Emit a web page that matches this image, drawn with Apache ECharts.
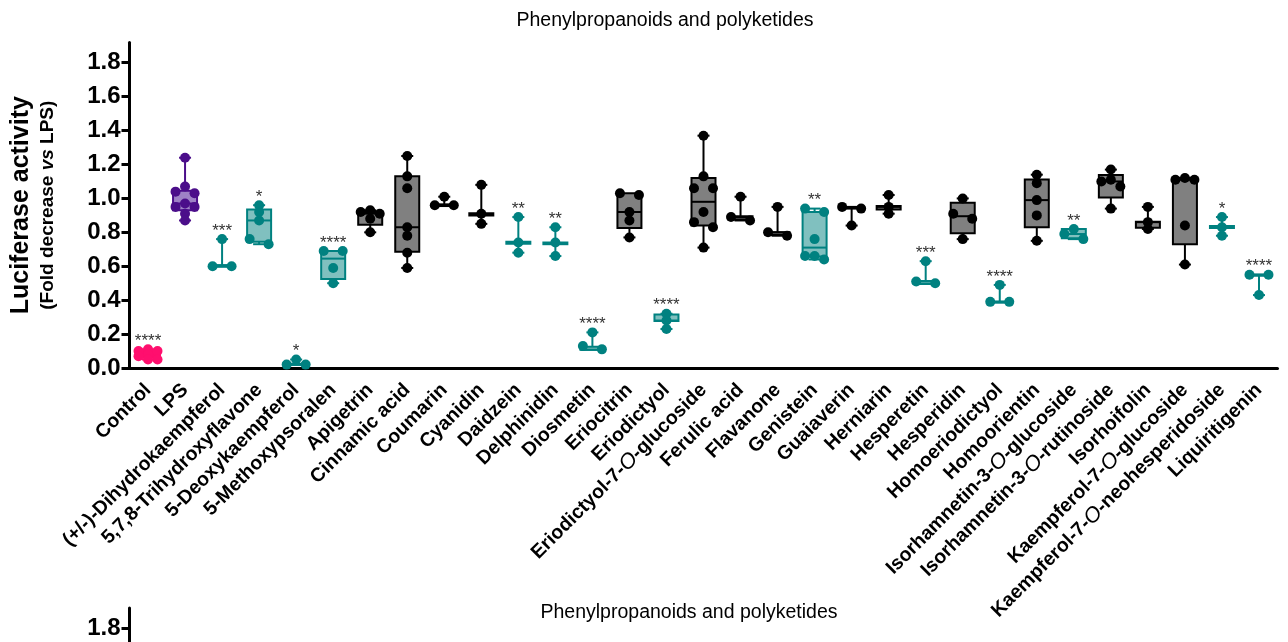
<!DOCTYPE html>
<html>
<head>
<meta charset="utf-8">
<script src="https://cdn.jsdelivr.net/npm/echarts@6/dist/echarts.min.js"></script>
<style>
  html, body { margin: 0; padding: 0; background: #fff; }
  #chart { width: 1288px; height: 642px; }
</style>
</head>
<body>
<div id="chart"></div>
<script>
// Compounds tested (x axis)
const categories = [
  'Control', 'LPS', '(+/-)-Dihydrokaempferol', '5,7,8-Trihydroxyflavone', '5-Deoxykaempferol',
  '5-Methoxypsoralen', 'Apigetrin', 'Cinnamic acid', 'Coumarin', 'Cyanidin', 'Daidzein',
  'Delphinidin', 'Diosmetin', 'Eriocitrin', 'Eriodictyol', 'Eriodictyol-7-O-glucoside',
  'Ferulic acid', 'Flavanone', 'Genistein', 'Guaiaverin', 'Herniarin', 'Hesperetin',
  'Hesperidin', 'Homoeriodictyol', 'Homoorientin', 'Isorhamnetin-3-O-glucoside',
  'Isorhamnetin-3-O-rutinoside', 'Isorhoifolin', 'Kaempferol-7-O-glucoside',
  'Kaempferol-7-O-neohesperidoside', 'Liquiritigenin'
];

// Colour group of each compound: control, LPS, significant vs LPS, not significant
const groups = [
  'control', 'lps', 'sig', 'sig', 'sig', 'sig', 'ns', 'ns', 'ns', 'ns', 'sig',
  'sig', 'sig', 'ns', 'sig', 'ns', 'ns', 'ns', 'sig', 'ns', 'ns', 'sig',
  'ns', 'sig', 'ns', 'sig', 'ns', 'ns', 'ns', 'sig', 'sig'
];

// Individual replicates (fold luciferase activity vs LPS)
const replicates = [
  [0.11, 0.10, 0.10, 0.08, 0.07, 0.05, 0.05],
  [1.24, 1.07, 1.04, 1.03, 0.97, 0.95, 0.95, 0.91, 0.87],
  [0.76, 0.60, 0.60],
  [0.96, 0.92, 0.87, 0.76, 0.73],
  [0.05, 0.02, 0.02],
  [0.69, 0.69, 0.59, 0.50],
  [0.93, 0.92, 0.91, 0.88, 0.80],
  [1.25, 1.13, 1.06, 0.83, 0.78, 0.68, 0.59],
  [1.01, 0.96, 0.96],
  [1.08, 0.91, 0.85],
  [0.89, 0.74, 0.68],
  [0.83, 0.74, 0.66],
  [0.21, 0.13, 0.11],
  [1.03, 1.02, 0.92, 0.87, 0.77],
  [0.32, 0.28, 0.23],
  [1.37, 1.13, 1.06, 1.06, 0.92, 0.86, 0.83, 0.71],
  [1.01, 0.89, 0.87],
  [0.95, 0.80, 0.78],
  [0.94, 0.92, 0.76, 0.66, 0.66, 0.64],
  [0.95, 0.94, 0.84],
  [1.02, 0.95, 0.91],
  [0.63, 0.51, 0.50],
  [1.00, 0.91, 0.88, 0.76],
  [0.49, 0.39, 0.39],
  [1.14, 1.09, 0.99, 0.90, 0.75],
  [0.82, 0.79, 0.76],
  [1.17, 1.11, 1.10, 1.07, 0.94],
  [0.95, 0.86, 0.82],
  [1.12, 1.11, 1.11, 0.84, 0.61],
  [0.89, 0.83, 0.78],
  [0.55, 0.55, 0.43]
];

// Box summaries: [min, Q1, median, Q3, max]
const boxStats = [
  [0.05, 0.06, 0.08, 0.10, 0.11],
  [0.87, 0.93, 0.97, 1.045, 1.24],
  [0.60, 0.597, 0.60, 0.607, 0.76],
  [0.73, 0.745, 0.87, 0.935, 0.96],
  [0.02, 0.018, 0.02, 0.025, 0.05],
  [0.50, 0.525, 0.645, 0.69, 0.69],
  [0.80, 0.845, 0.91, 0.92, 0.93],
  [0.59, 0.685, 0.83, 1.13, 1.25],
  [0.955, 0.955, 0.96, 0.965, 1.01],
  [0.85, 0.90, 0.905, 0.912, 1.08],
  [0.68, 0.733, 0.74, 0.745, 0.89],
  [0.66, 0.73, 0.735, 0.74, 0.83],
  [0.11, 0.107, 0.107, 0.126, 0.21],
  [0.77, 0.825, 0.92, 1.03, 1.03],
  [0.23, 0.277, 0.28, 0.316, 0.32],
  [0.71, 0.84, 0.98, 1.12, 1.37],
  [0.87, 0.875, 0.89, 0.895, 1.01],
  [0.78, 0.785, 0.80, 0.80, 0.95],
  [0.64, 0.657, 0.71, 0.92, 0.94],
  [0.84, 0.94, 0.945, 0.95, 0.95],
  [0.91, 0.935, 0.95, 0.955, 1.02],
  [0.50, 0.495, 0.51, 0.513, 0.63],
  [0.76, 0.795, 0.895, 0.975, 1.00],
  [0.39, 0.385, 0.39, 0.392, 0.49],
  [0.75, 0.83, 0.99, 1.112, 1.14],
  [0.76, 0.765, 0.79, 0.82, 0.82],
  [0.94, 1.005, 1.10, 1.138, 1.17],
  [0.82, 0.827, 0.86, 0.863, 0.95],
  [0.61, 0.73, 1.11, 1.12, 1.12],
  [0.78, 0.826, 0.833, 0.838, 0.89],
  [0.43, 0.544, 0.548, 0.552, 0.552]
];

// Significance vs LPS
const significance = [
  '****', '', '***', '*', '*', '****', '', '', '', '', '**',
  '**', '****', '', '****', '', '', '', '**', '', '', '***',
  '', '****', '', '**', '', '', '', '*', '****'
];

const yTicks = [0, 0.2, 0.4, 0.6, 0.8, 1.0, 1.2, 1.4, 1.6, 1.8];
const panelTitle = 'Phenylpropanoids and polyketides';

const palette = {
  control: { line: '#FF0F6E', fill: '#FF0F6E', dot: '#FF0F6E' },
  lps:     { line: '#4B0E8A', fill: '#9E82C6', dot: '#4B0E8A' },
  sig:     { line: '#008180', fill: '#80C0BF', dot: '#008180' },
  ns:      { line: '#000000', fill: '#808080', dot: '#000000' }
};

const FONT = '"Liberation Sans", Arial, Helvetica, sans-serif';

// Spread replicates that sit at about the same height sideways, max three per row
function swarm(ys, step) {
  const order = ys.map((y, i) => i).sort((a, b) => ys[a] - ys[b]);
  const offsets = new Array(ys.length).fill(0);
  const rows = [];
  let row = [];
  order.forEach(i => {
    if (row.length && (ys[i] - ys[row[row.length - 1]] > step * 0.58 || row.length === 3)) {
      rows.push(row); row = [];
    }
    row.push(i);
  });
  if (row.length) rows.push(row);
  rows.forEach(r => {
    const k = r.length;
    const offs = k === 1 ? [0] : k === 2 ? [-step, step] : [0, -step, step];
    r.forEach((i, n) => { offsets[i] = offs[n]; });
  });
  return offsets;
}

function renderGroup(params, api) {
  const i = api.value(0);
  const col = palette[groups[i]];
  const [lo, q1, med, q3, hi] = boxStats[i];
  const cx = api.coord([i, 0])[0];
  const Y = v => api.coord([i, v])[1];
  const half = 12, cap = 6, r = 5, step = 9.5;
  const kids = [];
  const seg = (x1, y1, x2, y2, w) => ({
    type: 'line', shape: { x1, y1, x2, y2 },
    style: { stroke: col.line, lineWidth: w }
  });
  if (hi > q3) {
    kids.push(seg(cx, Y(q3), cx, Y(hi), 2));
    kids.push(seg(cx - cap, Y(hi), cx + cap, Y(hi), 2));
  }
  if (lo < q1) {
    kids.push(seg(cx, Y(q1), cx, Y(lo), 2));
    kids.push(seg(cx - cap, Y(lo), cx + cap, Y(lo), 2));
  }
  kids.push({
    type: 'rect',
    shape: { x: cx - half, y: Y(q3), width: half * 2, height: Y(q1) - Y(q3) },
    style: { fill: col.fill, stroke: col.line, lineWidth: 2 }
  });
  kids.push(seg(cx - half, Y(med), cx + half, Y(med), 2));

  const vals = replicates[i];
  const ys = vals.map(Y);
  const dx = swarm(ys, step);
  ys.forEach((y, n) => {
    kids.push({ type: 'circle', shape: { cx: cx + dx[n], cy: y, r }, style: { fill: col.dot } });
  });

  if (significance[i]) {
    const top = Math.min.apply(null, ys);
    kids.push({
      type: 'text', x: cx, y: top - 8,
      style: {
        text: significance[i], fill: '#333', align: 'center', verticalAlign: 'middle',
        fontSize: 17, fontFamily: FONT
      }
    });
  }
  return { type: 'group', children: kids };
}

const axisLineStyle = { lineStyle: { color: '#000', width: 3 } };

const yAxisBase = {
  type: 'value', min: 0, max: 1.92, interval: 0.2,
  axisLine: { show: true, ...axisLineStyle },
  axisTick: { show: true, length: 8, customValues: yTicks, lineStyle: { color: '#000', width: 3 } },
  axisLabel: {
    customValues: yTicks, formatter: v => v.toFixed(1), margin: 9,
    color: '#000', fontSize: 24, fontWeight: 'bold', fontFamily: FONT
  },
  splitLine: { show: false }
};

const chart = echarts.init(document.getElementById('chart'), null, { renderer: 'canvas' });

chart.setOption({
  animation: false,
  backgroundColor: '#fff',
  title: [
    { text: panelTitle, left: 660, top: 6, textAlign: 'center',
      textStyle: { fontSize: 19.5, fontWeight: 'normal', color: '#000', fontFamily: FONT } },
    { text: panelTitle, left: 684, top: 598, textAlign: 'center',
      textStyle: { fontSize: 19.5, fontWeight: 'normal', color: '#000', fontFamily: FONT } }
  ],
  grid: [
    { left: 129.5, top: 42.4, width: 1148, height: 325.6, outerBoundsMode: 'none' },
    { left: 129.5, top: 608, width: 1148, height: 325.6, outerBoundsMode: 'none' }
  ],
  xAxis: [
    {
      type: 'category', gridIndex: 0, data: categories, boundaryGap: true,
      axisLine: axisLineStyle,
      axisTick: { alignWithLabel: true, length: 8, lineStyle: { color: '#000', width: 3 } },
      axisLabel: {
        interval: 0, rotate: 45, margin: 19, color: '#000',
        fontSize: 19.5, fontWeight: 'bold', fontFamily: FONT,
        formatter: v => v.replace('-O-', '-{o|O}-'),
        rich: {
          o: { fontSize: 21.5, fontStyle: 'italic', fontWeight: 'normal', color: '#000', fontFamily: FONT }
        }
      }
    },
    { type: 'category', gridIndex: 1, data: categories, show: false }
  ],
  yAxis: [
    {
      ...yAxisBase, gridIndex: 0,
      name: '{a|Luciferase activity}\n{b|(Fold decrease }{c|vs}{b| LPS)}',
      nameLocation: 'middle', nameRotate: 90, nameGap: 70,
      nameTextStyle: {
        color: '#000',
        rich: {
          a: { fontSize: 25, fontWeight: 'bold', fontFamily: FONT, color: '#000', lineHeight: 28 },
          b: { fontSize: 19, fontWeight: 'bold', fontFamily: FONT, color: '#000', lineHeight: 24 },
          c: { fontSize: 19, fontWeight: 'bold', fontStyle: 'italic', fontFamily: FONT, color: '#000', lineHeight: 24 }
        }
      }
    },
    { ...yAxisBase, gridIndex: 1 }
  ],
  series: [
    {
      type: 'custom',
      xAxisIndex: 0, yAxisIndex: 0,
      clip: false,
      renderItem: renderGroup,
      data: categories.map((c, i) => [i, boxStats[i][4]]),
      encode: { x: 0, y: 1 }
    }
  ]
});
</script>
</body>
</html>
